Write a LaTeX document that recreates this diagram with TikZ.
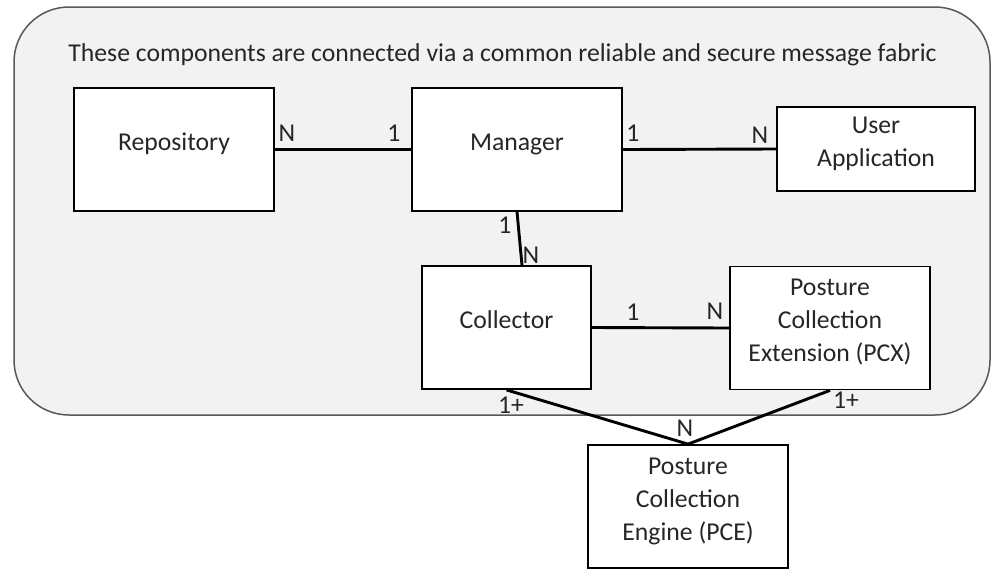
\documentclass[tikz,border=0pt]{standalone}
\usepackage{fontspec}
\setmainfont{Carlito}
\usepackage{xcolor}
\usepackage{tikz}
\usetikzlibrary{calc}
\definecolor{fabric}{HTML}{F2F2F2}
\definecolor{edge}{HTML}{595959}
\definecolor{ink}{HTML}{262626}

\tikzset{
  comp/.style={draw=black, line width=1.8pt, fill=white, align=center, inner sep=0pt,
    minimum width=200pt, minimum height=123pt, text depth=15pt},
  link/.style={line width=2.9pt},
  mult/.style={inner sep=0pt},
}

\begin{document}
\begin{tikzpicture}[x=1pt, y=-1pt, text=ink, font=\fontsize{25.7}{33}\selectfont]
\useasboundingbox (0,0) rectangle (1003,576);

% the common message fabric
\draw[edge, fill=fabric, line width=1.5pt, rounded corners=55pt] (14,7) rectangle (990,415);
\node[anchor=base] (fabric) at (502.5,61) {These components are connected via a common reliable and secure message fabric};

% components
\node[comp] (repo) at (174,149.5) {Repository};
\node[comp, minimum width=210pt] (mgr) at (517,149.5) {Manager};
\node[comp, minimum width=198pt, minimum height=84pt] (ua) at (876,149) {User\\Application};
\node[comp, minimum width=169pt] (coll) at (506.5,327.5) {Collector};
\node[comp] (pcx) at (830,328) {Posture\\Collection\\Extension (PCX)};
\node[comp] (pce) at (688,506.5) {Posture\\Collection\\Engine (PCE)};

% connectors
\draw[link] (repo.east) -- (mgr.west);
\draw[link] (mgr.east) -- (ua.west);
\draw[link] (mgr.south) -- ([xshift=15.5pt]coll.north);
\draw[link] (coll.east) -- (pcx.west);
\draw[link] (coll.south) -- (pce.north) -- (pcx.south);

% multiplicities
\node[mult] (repoN) at (287,133) {N};
\node[mult] (mgrW) at (394,133) {1};
\node[mult] (mgrE) at (633,133) {1};
\node[mult] (uaN) at (760,135) {N};
\node[mult] (mgrS) at (505,225) {1};
\node[mult] (collN) at (531,255) {N};
\node[mult] (collE) at (633,312) {1};
\node[mult] (pcxN) at (715,311) {N};
\node[mult] (collS) at (511,405) {1+};
\node[mult] (pcxS) at (846,400) {1+};
\node[mult] (pceN) at (685,428) {N};

\end{tikzpicture}
\end{document}
